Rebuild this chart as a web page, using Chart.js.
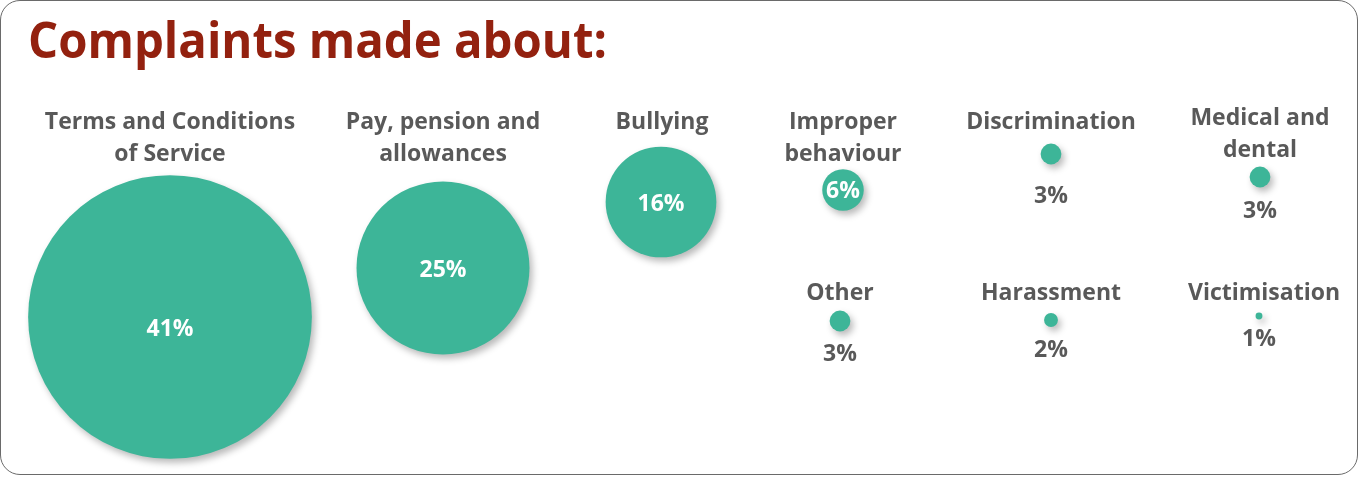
<!DOCTYPE html>
<html>
<head>
<meta charset="utf-8">
<script src="https://cdn.jsdelivr.net/npm/chart.js@4.4.1/dist/chart.umd.min.js"></script>
<style>
  html, body { margin: 0; padding: 0; background: #fff; }
  #wrap {
    position: relative;
    width: 1360px;
    height: 477px;
    overflow: hidden;
  }
  #frame {
    position: absolute;
    left: 0; top: 0;
    width: 1356px; height: 473px;
    border: 1.5px solid #6a6a6a;
    border-radius: 20px;
    pointer-events: none;
  }
  #title {
    position: absolute;
    left: 28px;
    top: 8px;
    margin: 0;
    font-family: "Open Sans", sans-serif;
    font-weight: 700;
    font-size: 51px;
    line-height: 60px;
    color: #93210f;
    white-space: nowrap;
    transform-origin: 0 0;
  }
  canvas { position: absolute; left: 0; top: 0; }
</style>
</head>
<body>
<div id="wrap">
  <h1 id="title">Complaints made about:</h1>
  <canvas id="bubbleChart" width="1360" height="477"></canvas>
  <div id="frame"></div>
</div>
<script>
// data
const categories = [
    'Terms and Conditions of Service',
    'Pay, pension and allowances',
    'Bullying',
    'Improper behaviour',
    'Discrimination',
    'Medical and dental',
    'Other',
    'Harassment',
    'Victimisation'
];
const labelLines = [
    ['Terms and Conditions', 'of Service'],
    ['Pay, pension and', 'allowances'],
    ['Bullying'],
    ['Improper', 'behaviour'],
    ['Discrimination'],
    ['Medical and', 'dental'],
    ['Other'],
    ['Harassment'],
    ['Victimisation']
];
const percentages = [41, 25, 16, 6, 3, 3, 3, 2, 1];

// layout (page units, 1360 x 477)
const posX = [170, 443, 661, 843, 1051, 1260, 840, 1051, 1259];
const posY = [317, 268, 202, 190, 154, 177, 321, 320, 316];
const labelX = [170, 443, 662, 843, 1051, 1260, 840, 1051, 1264];
const labelY = [122, 122, 122, 122, 122, 118, 293, 293, 293];
const pctDy = [12, 2, 2, 1, 32, 24, 23, 24, 20];
const radiusPerPoint = 3.46;

const green = '#3db598';
const grey = '#595959';
const fontFamily = '"Open Sans", sans-serif';

// squeeze title to the width of the original
(function fitTitle() {
    const t = document.getElementById('title');
    const w = t.scrollWidth;
    t.style.transform = 'scaleX(' + (579 / w) + ')';
})();

function drawSqueezed(ctx, text, x, y, sx) {
    ctx.save();
    ctx.translate(x, y);
    ctx.scale(sx, 1);
    ctx.fillText(text, 0, 0);
    ctx.restore();
}

const bubbleShadow = {
    id: 'bubbleShadow',
    beforeDatasetDraw(chart) {
        const ctx = chart.ctx;
        ctx.save();
        ctx.shadowColor = 'rgba(0, 0, 0, 0.28)';
        ctx.shadowBlur = 7;
        ctx.shadowOffsetX = 3;
        ctx.shadowOffsetY = 4;
    },
    afterDatasetDraw(chart) {
        chart.ctx.restore();
    }
};

const bubbleLabels = {
    id: 'bubbleLabels',
    afterDatasetsDraw(chart) {
        const ctx = chart.ctx;
        const meta = chart.getDatasetMeta(0);
        ctx.save();
        ctx.textAlign = 'center';
        ctx.textBaseline = 'middle';
        meta.data.forEach((pt, i) => {
            const r = pt.options.radius;
            // category name above
            ctx.fillStyle = grey;
            ctx.font = '700 23px ' + fontFamily;
            labelLines[i].forEach((line, j) => {
                const lx = chart.scales.x.getPixelForValue(labelX[i]);
                const ly = chart.scales.y.getPixelForValue(labelY[i]) + j * 32;
                drawSqueezed(ctx, line, lx, ly, 1.0);
            });
            // percentage
            const txt = percentages[i] + '%';
            ctx.font = '700 23px ' + fontFamily;
            if (r >= 18) {
                ctx.fillStyle = '#ffffff';
                drawSqueezed(ctx, txt, pt.x, pt.y + pctDy[i], 1.0);
            } else {
                ctx.fillStyle = grey;
                drawSqueezed(ctx, txt, pt.x, pt.y + r + pctDy[i], 1.0);
            }
        });
        ctx.restore();
    }
};

const ctx = document.getElementById('bubbleChart').getContext('2d');
new Chart(ctx, {
    type: 'bubble',
    data: {
        labels: categories,
        datasets: [{
            label: 'Complaints',
            data: percentages.map((v, i) => ({ x: posX[i], y: posY[i], r: v * radiusPerPoint })),
            backgroundColor: green,
            borderColor: green,
            borderWidth: 0,
            hoverRadius: 0,
            clip: false
        }]
    },
    options: {
        responsive: false,
        animation: false,
        events: [],
        layout: { padding: 0, autoPadding: false },
        plugins: {
            legend: { display: false },
            tooltip: { enabled: false },
            title: { display: false }
        },
        scales: {
            x: { type: 'linear', min: 0, max: 1360, display: false },
            y: { type: 'linear', min: 0, max: 477, reverse: true, display: false }
        }
    },
    plugins: [bubbleShadow, bubbleLabels]
});
</script>
</body>
</html>
